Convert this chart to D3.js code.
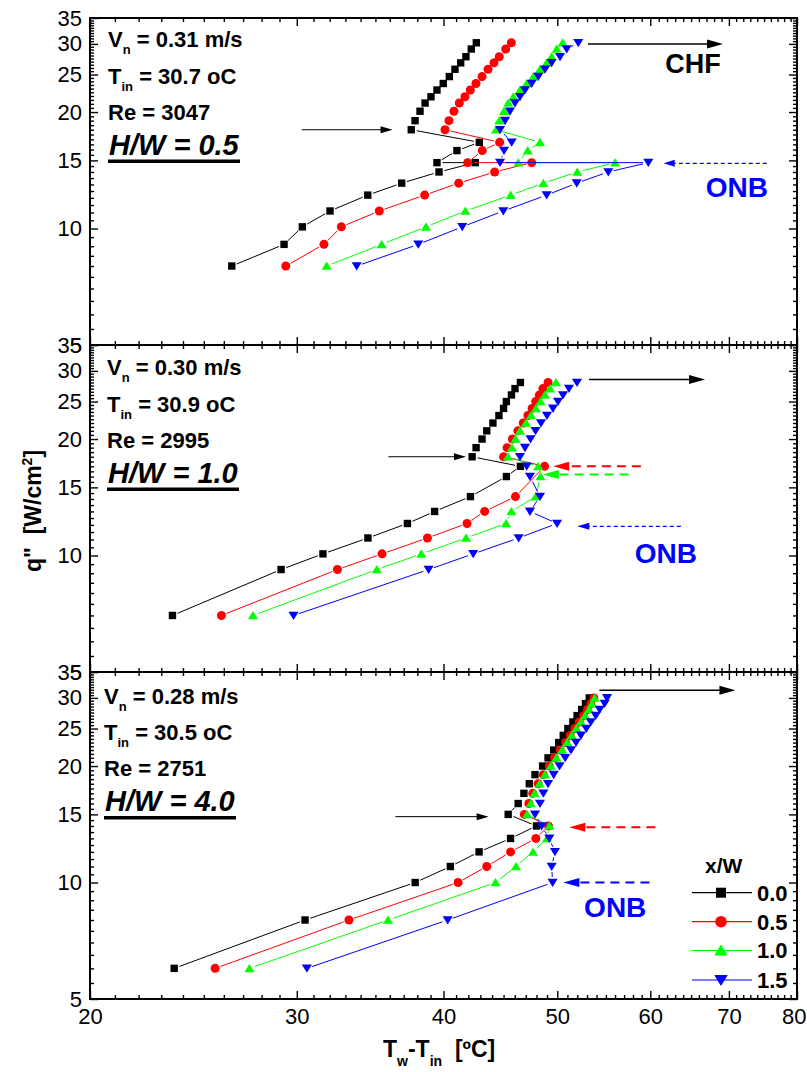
<!DOCTYPE html>
<html><head><meta charset="utf-8">
<script src="https://cdn.jsdelivr.net/npm/d3@7"></script>
<style>
body{margin:0;background:#fff}
svg{display:block}
text{font-family:"Liberation Sans",Arial,Helvetica,sans-serif}
</style>
</head><body>
<svg id="chart" width="807" height="1072"></svg>
<script>
// ---------------- DATA ----------------
const xTickValues = [20, 30, 40, 50, 60, 70, 80];
const yTickValues = [5, 10, 15, 20, 25, 30, 35];
const legendLabels = ["0.0", "0.5", "1.0", "1.5"];
const panelHW = ["0.5", "1.0", "4.0"];
const panelVn = ["0.31", "0.30", "0.28"];
const panelTin = ["30.7", "30.9", "30.5"];
const panelRe = ["3047", "2995", "2751"];

// Panel 1 (H/W = 0.5) : heat flux q'' [W/cm2] and Tw-Tin [C]
const q1 = [8.0, 9.1, 10.1, 11.1, 12.2, 13.1, 14.0, 14.8, 14.8, 15.9, 16.7, 18.0, 19.0, 20.1, 21.1, 21.9, 22.8, 23.7, 24.7, 25.8, 26.8, 27.8, 29.1, 30.2];
const t1_00 = [26.41, 29.26, 30.33, 32.02, 34.48, 36.85, 39.65, 42.57, 39.49, 41.07, 42.91, 37.55, 37.83, 38.20, 38.58, 39.03, 39.49, 39.98, 40.46, 40.91, 41.37, 41.80, 42.24, 42.66];
const t1_05 = [29.36, 31.64, 32.74, 35.27, 38.55, 41.21, 44.22, 47.55, 41.94, 43.16, 44.66, 40.12, 40.43, 40.83, 41.26, 41.72, 42.16, 42.63, 43.14, 43.65, 44.16, 44.62, 45.19, 45.69];
const t1_10 = [31.81, 35.43, 38.65, 41.75, 45.63, 48.65, 52.00, 55.99, 46.32, 47.18, 48.33, 44.34, 44.62, 45.04, 45.42, 45.87, 46.47, 47.09, 47.70, 48.33, 48.97, 49.45, 49.94, 50.53];
const t1_15 = [33.74, 38.07, 41.50, 44.98, 48.97, 51.94, 55.26, 59.77, 44.69, 45.04, 45.72, 44.69, 45.13, 45.57, 46.02, 46.47, 46.93, 47.55, 48.17, 48.81, 49.45, 50.27, 50.93, 52.10];

// Panel 2 (H/W = 1.0)
const q2 = [7.0, 9.2, 10.1, 11.1, 12.1, 13.0, 14.2, 16.0, 17.0, 18, 19, 20, 21, 22, 23, 24, 25, 26, 27, 28];
const q2red = [7.0, 9.2, 10.1, 11.1, 12.1, 13.0, 14.2, 17.0, 18, 19, 20, 21, 22, 23, 24, 25, 26, 27, 28];
const t2_00 = [23.51, 29.09, 31.58, 34.49, 37.27, 39.31, 42.17, 45.25, 46.51, 42.31, 42.64, 43.14, 43.54, 44.07, 44.59, 45.00, 45.25, 45.70, 46.02, 46.51];
const t2_05 = [25.88, 32.49, 35.46, 38.76, 41.89, 43.36, 46.06, 48.77, 45.00, 45.31, 45.79, 46.28, 46.77, 47.20, 47.59, 47.93, 48.27, 48.61, 49.10];
const t2_10 = [27.53, 35.10, 38.30, 41.81, 45.22, 45.70, 47.93, 48.38, 48.17, 45.39, 45.75, 46.07, 46.47, 47.02, 47.49, 47.95, 48.38, 48.81, 49.29, 49.87];
const t2_15 = [29.81, 38.85, 42.40, 46.35, 49.98, 47.39, 48.33, 47.39, 47.09, 46.47, 46.93, 47.44, 47.91, 48.43, 49.00, 49.58, 50.07, 50.56, 51.16, 51.97];

// Panel 3 (H/W = 4.0)
const q3 = [6, 8, 10, 11, 12, 13, 14, 15, 16, 17, 18, 19, 20, 21, 22, 23, 24, 25, 26, 27, 28, 29, 30];
const t3_00 = [23.59, 30.49, 37.84, 40.54, 42.89, 45.62, 48.00, 45.41, 46.31, 46.83, 47.33, 47.86, 48.58, 49.10, 49.65, 50.14, 50.59, 51.05, 51.55, 51.98, 52.45, 52.84, 53.24];
const t3_05 = [25.56, 33.23, 41.16, 43.54, 45.62, 47.94, 49.14, 46.87, 47.29, 47.65, 48.15, 48.65, 49.21, 49.73, 50.29, 50.82, 51.28, 51.75, 52.21, 52.65, 53.04, 53.40, 53.72];
const t3_10 = [27.34, 35.88, 44.30, 46.11, 47.67, 49.00, 49.24, 47.12, 47.47, 47.82, 48.29, 48.80, 49.36, 49.91, 50.48, 50.97, 51.43, 51.90, 52.37, 52.80, 53.21, 53.52, 53.80];
const t3_15 = [30.60, 40.33, 49.54, 49.45, 49.77, 49.22, 48.49, 47.86, 48.33, 48.65, 49.10, 49.65, 50.22, 50.78, 51.36, 51.87, 52.37, 52.93, 53.40, 53.92, 54.33, 54.86, 55.12];

// Annotation arrows in data units [T1, q1, T2, q2] (tail -> head)
const p1Arrows = [[30.3, 18.0, 36.2, 18.0], [53.1, 30.0, 69.2, 30.0], [75.4, 14.74, 61.6, 14.74]];
const p2Arrows = [[35.9, 18.0, 41.8, 18.0], [53.2, 28.5, 66.8, 28.5], [58.9, 17.0, 49.6, 17.0], [57.5, 16.2, 48.6, 16.2], [63.7, 11.9, 52.0, 11.9]];
const p3Arrows = [[36.4, 14.8, 43.7, 14.8], [54.3, 31.4, 70.9, 31.4], [60.6, 13.9, 51.2, 13.9], [59.9, 10.0, 50.6, 10.0]];
const onbTextPos = [[66.9, 12.06], [58.2, 9.56], [52.7, 8.14]];
const chfTextPos = [61.8, 25.2];

// ---------------- LAYOUT / STYLE ----------------
const svg = d3.select("#chart");
const L = 90, R = 797, PH = 327;
const tops = [18, 345, 672];
const colors = ["#000000", "#ff0000", "#00ff00", "#0000ff"];
const shapes = ["square", "circle", "up", "down"];

const x = d3.scaleLog().domain([20, 80]).range([L, R]);
const yFor = top => d3.scaleLog().domain([5, 35]).range([top + PH, top]);

function shapePath(shape, s) {
  if (shape === "square") return `M${-s},${-s}h${2*s}v${2*s}h${-2*s}Z`;
  if (shape === "circle") return d3.symbol(d3.symbolCircle, Math.PI * (s+0.6) * (s+0.6))();
  const w = s * 1.3, h = s * 1.15;
  if (shape === "up") return `M0,${-h}L${w},${h*0.85}L${-w},${h*0.85}Z`;
  return `M0,${h}L${w},${-h*0.85}L${-w},${-h*0.85}Z`;
}

function arrow(g, x1, y1, x2, y2, o) {
  const dx = x2 - x1, dy = y2 - y1, len = Math.hypot(dx, dy);
  const ux = dx / len, uy = dy / len;
  const bx = x2 - ux * o.hl, by = y2 - uy * o.hl;
  g.append("line").attr("x1", x1).attr("y1", y1).attr("x2", bx + ux*1).attr("y2", by + uy*1)
    .attr("stroke", o.color).attr("stroke-width", o.w).attr("stroke-dasharray", o.dash || null);
  g.append("path").attr("d", `M${x2},${y2}L${bx - uy*o.hw},${by + ux*o.hw}L${bx + uy*o.hw},${by - ux*o.hw}Z`)
    .attr("fill", o.color);
}

const panelSeries = [
  [[t1_00, q1], [t1_05, q1], [t1_10, q1], [t1_15, q1]],
  [[t2_00, q2], [t2_05, q2red], [t2_10, q2], [t2_15, q2]],
  [[t3_00, q3], [t3_05, q3], [t3_10, q3], [t3_15, q3]]
];
const panelArrows = [p1Arrows, p2Arrows, p3Arrows];

const xMinor = d3.range(21, 80, 1).filter(v => v % 10 !== 0);
const yMinor = d3.range(5.5, 35, 0.5).filter(v => v % 5 !== 0);
const textX = [108, 107, 104];
const textY0 = [29, 30, 31.5];

panelSeries.forEach((series, p) => {
  const top = tops[p];
  const y = yFor(top);
  const g = svg.append("g");

  // axes (inside ticks)
  const styleAxis = a => { a.select(".domain").remove(); a.selectAll("line").attr("stroke", "#000").attr("stroke-width", 1.4); };
  const bottomMaj = g.append("g").attr("transform", `translate(0,${top + PH})`)
    .call(d3.axisBottom(x).tickValues(xTickValues).tickSize(-8).tickSizeOuter(0).tickPadding(9)
      .tickFormat(p === 2 ? d3.format("d") : () => ""));
  styleAxis(bottomMaj);
  bottomMaj.selectAll("text").attr("font-size", 22).attr("fill", "#000").style("font-family", '"Liberation Sans",Arial,sans-serif');
  bottomMaj.selectAll("text").filter(d => d === 80).attr("text-anchor", "end").attr("x", 9);
  styleAxis(g.append("g").attr("transform", `translate(0,${top + PH})`)
    .call(d3.axisBottom(x).tickValues(xMinor).tickSize(-4).tickSizeOuter(0).tickFormat(() => "")));
  styleAxis(g.append("g").attr("transform", `translate(0,${top})`)
    .call(d3.axisTop(x).tickValues(xTickValues).tickSize(-8).tickSizeOuter(0).tickFormat(() => "")));
  styleAxis(g.append("g").attr("transform", `translate(0,${top})`)
    .call(d3.axisTop(x).tickValues(xMinor).tickSize(-4).tickSizeOuter(0).tickFormat(() => "")));
  const leftMaj = g.append("g").attr("transform", `translate(${L},0)`)
    .call(d3.axisLeft(y).tickValues(yTickValues).tickSize(-8).tickSizeOuter(0).tickPadding(8).tickFormat(d3.format("d")));
  styleAxis(leftMaj);
  leftMaj.selectAll("text").attr("font-size", 22).attr("fill", "#000").style("font-family", '"Liberation Sans",Arial,sans-serif');
  styleAxis(g.append("g").attr("transform", `translate(${L},0)`)
    .call(d3.axisLeft(y).tickValues(yMinor).tickSize(-4).tickSizeOuter(0).tickFormat(() => "")));
  styleAxis(g.append("g").attr("transform", `translate(${R},0)`)
    .call(d3.axisRight(y).tickValues(yTickValues).tickSize(-8).tickSizeOuter(0).tickFormat(() => "")));
  styleAxis(g.append("g").attr("transform", `translate(${R},0)`)
    .call(d3.axisRight(y).tickValues(yMinor).tickSize(-4).tickSizeOuter(0).tickFormat(() => "")));

  g.append("rect").attr("x", L).attr("y", top).attr("width", R - L).attr("height", PH)
    .attr("fill", "none").attr("stroke", "#000").attr("stroke-width", 2);

  // data series
  const gap = 5.5;
  series.forEach(([T, Q], s) => {
    const pts = T.map((t, i) => [x(t), y(Q[i])]);
    const segs = [];
    for (let i = 0; i < pts.length - 1; i++) {
      const [ax, ay] = pts[i], [bx, by] = pts[i + 1];
      const d = Math.hypot(bx - ax, by - ay);
      if (d > 2 * gap + 1) {
        const ux = (bx - ax) / d, uy = (by - ay) / d;
        segs.push([ax + ux * gap, ay + uy * gap, bx - ux * gap, by - uy * gap]);
      }
    }
    g.append("g").selectAll("line").data(segs).join("line")
      .attr("x1", d => d[0]).attr("y1", d => d[1]).attr("x2", d => d[2]).attr("y2", d => d[3])
      .attr("stroke", colors[s]).attr("stroke-width", 1);
    g.append("g").selectAll("path").data(pts).join("path")
      .attr("d", shapePath(shapes[s], s === 0 ? 3.7 : 3.9))
      .attr("transform", d => `translate(${d[0]},${d[1]})`)
      .attr("fill", colors[s]);
  });

  // arrows
  const arr = panelArrows[p];
  arr.forEach((a, i) => {
    const x1 = x(a[0]), y1 = y(a[1]), x2 = x(a[2]), y2 = y(a[3]);
    let o;
    if (i === 0) o = {color: "#000", w: 1, hl: 12, hw: 3.5};
    else if (i === 1) o = {color: "#000", w: 1.5, hl: 16, hw: 4.5};
    else {
      if (p === 0) o = {color: "#0000ff", w: 1.2, hl: 11, hw: 3.5, dash: "4,3"};
      else if (p === 1 && i === 2) o = {color: "#ff0000", w: 2, hl: 16, hw: 4.5, dash: "9,6"};
      else if (p === 1 && i === 3) o = {color: "#00ff00", w: 2, hl: 16, hw: 4.5, dash: "9,6"};
      else if (p === 1 && i === 4) o = {color: "#0000ff", w: 1.2, hl: 12, hw: 3.5, dash: "4,3"};
      else if (p === 2 && i === 2) o = {color: "#ff0000", w: 2, hl: 16, hw: 4.5, dash: "9,6"};
      else o = {color: "#0000ff", w: 2, hl: 16, hw: 4.5, dash: "9,6"};
    }
    arrow(g, x1, y1, x2, y2, o);
  });

  // ONB text
  g.append("text").attr("x", x(onbTextPos[p][0])).attr("y", y(onbTextPos[p][1]))
    .attr("font-size", 28).attr("font-weight", "bold").attr("fill", "#0000ff").text("ONB");
  if (p === 0) {
    g.append("text").attr("x", x(chfTextPos[0])).attr("y", y(chfTextPos[1]))
      .attr("font-size", 27).attr("font-weight", "bold").attr("fill", "#000").text("CHF");
  }

  // condition labels
  const tx = textX[p], ty = top + textY0[p];
  const t1 = g.append("text").attr("x", tx).attr("y", ty).attr("font-size", 22).attr("font-weight", "bold");
  t1.append("tspan").text("V");
  t1.append("tspan").attr("font-size", 13).attr("dy", 7).text("n");
  t1.append("tspan").attr("dy", -7).text("\u00A0= " + panelVn[p] + " m/s");
  const t2 = g.append("text").attr("x", tx).attr("y", ty + 36.6).attr("font-size", 22).attr("font-weight", "bold");
  t2.append("tspan").text("T");
  t2.append("tspan").attr("font-size", 13).attr("dy", 7).text("in");
  t2.append("tspan").attr("dy", -7).text("\u00A0= " + panelTin[p] + " oC");
  g.append("text").attr("x", tx).attr("y", ty + 72.6).attr("font-size", 22).attr("font-weight", "bold")
    .text("Re = " + panelRe[p]);
  g.append("text").attr("x", tx + 1).attr("y", ty + 107.5).attr("font-size", 29).attr("font-weight", "bold")
    .attr("font-style", "italic").text("H/W = " + panelHW[p]);
  g.append("rect").attr("x", tx).attr("y", ty + 112.5).attr("width", 132).attr("height", 3.5).attr("fill", "#000");
});

// Legend (bottom panel)
const lg = svg.append("g");
lg.append("text").attr("x", 705).attr("y", 873).attr("font-size", 21).attr("font-weight", "bold").text("x/W");
const legY = [892.7, 921.7, 950.5, 980];
legendLabels.forEach((lab, i) => {
  lg.append("line").attr("x1", 692).attr("x2", 752).attr("y1", legY[i]).attr("y2", legY[i])
    .attr("stroke", colors[i]).attr("stroke-width", 1.2);
  lg.append("path").attr("d", shapePath(shapes[i], i === 0 ? 5 : 5.2))
    .attr("transform", `translate(721,${legY[i]})`).attr("fill", colors[i]);
  lg.append("text").attr("x", 757).attr("y", legY[i]).attr("dy", "0.36em")
    .attr("font-size", 22).attr("font-weight", "bold").text(lab);
});

// Axis titles
const xt = svg.append("text").attr("x", 383).attr("y", 1057).attr("font-size", 23).attr("font-weight", "bold");
xt.append("tspan").text("T");
xt.append("tspan").attr("font-size", 14).attr("dy", 9).text("w");
xt.append("tspan").attr("dy", -9).text("-T");
xt.append("tspan").attr("font-size", 14).attr("dy", 9).text("in");
xt.append("tspan").attr("dy", -9).text("\u00A0\u00A0[\u00BAC]");

const yt = svg.append("text").attr("transform", "translate(41,511) rotate(-90)").attr("text-anchor", "middle")
  .attr("font-size", 23).attr("font-weight", "bold");
yt.append("tspan").text("q\"\u00A0\u00A0[W/cm");
yt.append("tspan").attr("font-size", 14).attr("dy", -9).text("2");
yt.append("tspan").attr("dy", 9).text("]");
</script>
</body></html>
